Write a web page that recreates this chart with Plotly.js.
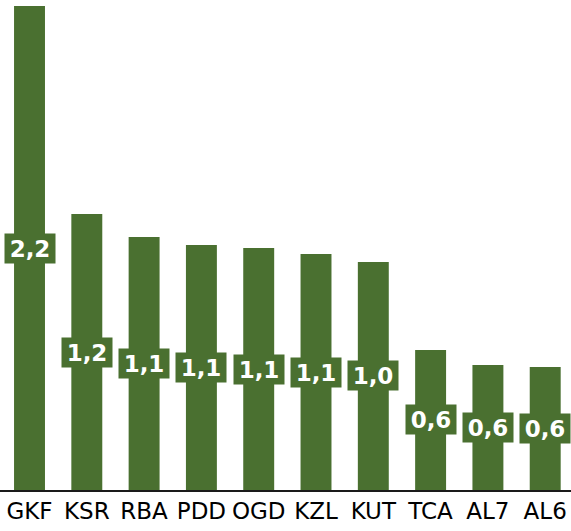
<!DOCTYPE html>
<html>
<head>
<meta charset="utf-8">
<script src="https://cdn.plot.ly/plotly-3.0.1.min.js"></script>
<style>html,body{margin:0;padding:0;background:#fff;}#chart{width:571px;height:531px;}</style>
</head>
<body>
<div id="chart"></div>
<script>
var categories = ["GKF", "KSR", "RBA", "PDD", "OGD", "KZL", "KUT", "TCA", "AL7", "AL6"];
var values = [2.18, 1.243, 1.139, 1.103, 1.090, 1.063, 1.027, 0.631, 0.563, 0.554];

var barColor = "#4a7030";

function fmt(v) { return v.toFixed(1).replace(".", ","); }

var annotations = categories.map(function (c, i) {
  return {
    x: c, y: values[i] / 2, xref: "x", yref: "y",
    text: "<b>" + fmt(values[i]) + "</b>",
    showarrow: false,
    bgcolor: barColor,
    borderpad: 2,
    width: 46,
    height: 25,
    font: { family: "DejaVu Sans", size: 23, color: "#ffffff" }
  };
});

var trace = {
  type: "bar",
  x: categories,
  y: values,
  marker: { color: barColor },
  hoverinfo: "none"
};

var layout = {
  width: 571, height: 531,
  margin: { l: 0, r: 0, t: 6, b: 41, pad: 0 },
  paper_bgcolor: "#ffffff", plot_bgcolor: "#ffffff",
  bargap: 0.46,
  showlegend: false,
  xaxis: {
    type: "category",
    range: [-0.515, 9.45],
    showline: true, linecolor: "#1a1a1a", linewidth: 1.5,
    showgrid: false, zeroline: false,
    ticks: "", ticklen: 0,
    tickfont: { family: "DejaVu Sans", size: 23, color: "#000000" }
  },
  yaxis: {
    range: [0, values[0]],
    visible: false, showgrid: false, zeroline: false
  },
  annotations: annotations
};

Plotly.newPlot("chart", [trace], layout, { displayModeBar: false, staticPlot: true });
</script>
</body>
</html>
